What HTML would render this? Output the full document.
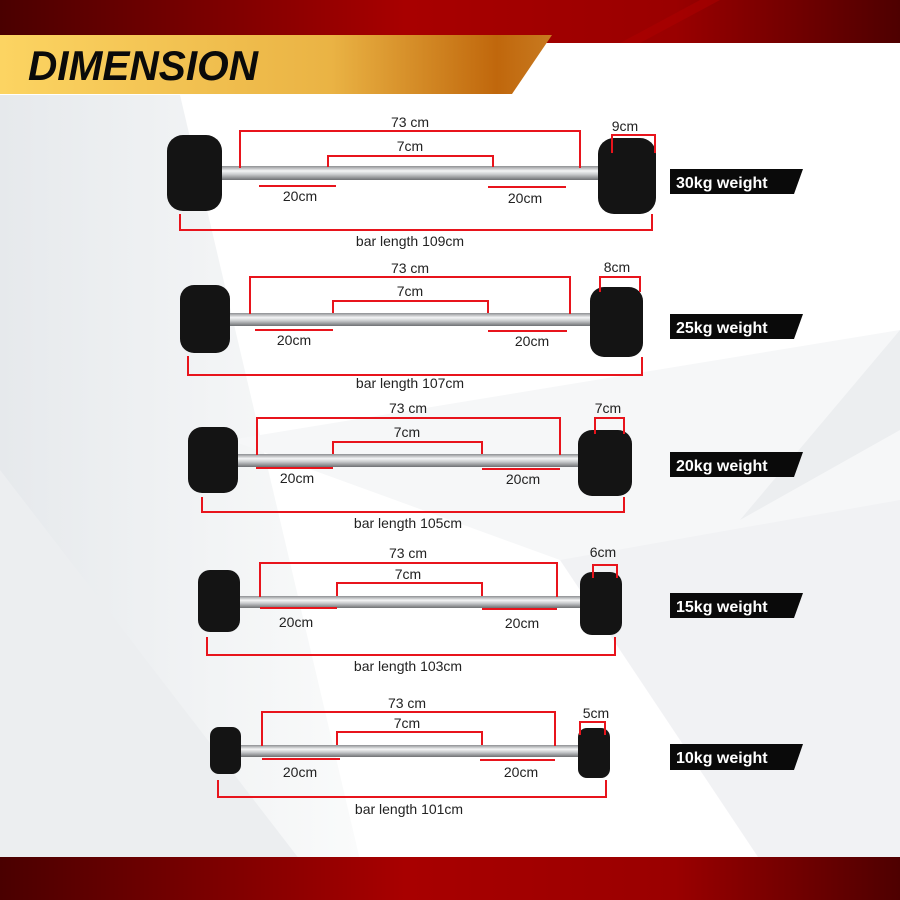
<!DOCTYPE html>
<html><head><meta charset="utf-8"><style>
html,body{margin:0;padding:0;width:900px;height:900px;overflow:hidden;background:#fff}
svg{display:block}
text{font-family:"Liberation Sans",sans-serif}
.t{font-size:14px;fill:#222;text-anchor:middle}
.r{fill:none;stroke:#e8141c;stroke-width:2}
.lb{font-size:16px;font-weight:bold;fill:#fff}
</style></head><body>
<svg width="900" height="900" viewBox="0 0 900 900" xmlns="http://www.w3.org/2000/svg">
<defs>
<linearGradient id="red" x1="0" y1="0" x2="1" y2="0">
<stop offset="0" stop-color="#4a0000"/><stop offset="0.45" stop-color="#a80000"/><stop offset="0.75" stop-color="#9a0000"/><stop offset="1" stop-color="#4e0000"/></linearGradient>
<linearGradient id="gold" x1="0" y1="0" x2="1" y2="0">
<stop offset="0" stop-color="#fcd462"/><stop offset="0.6" stop-color="#eab344"/><stop offset="0.9" stop-color="#c0670c"/><stop offset="1" stop-color="#c87a20"/></linearGradient>
<linearGradient id="bar" x1="0" y1="0" x2="0" y2="1">
<stop offset="0" stop-color="#8d8f92"/><stop offset="0.35" stop-color="#f4f5f6"/><stop offset="0.6" stop-color="#c9cbcd"/><stop offset="1" stop-color="#6e7073"/></linearGradient>
<linearGradient id="bg" x1="0" y1="0" x2="1" y2="0">
<stop offset="0" stop-color="#e6e9ec"/><stop offset="1" stop-color="#fafbfb"/></linearGradient>
</defs>
<rect width="900" height="900" fill="#fff"/>
<polygon points="0,95 180,95 360,860 0,860" fill="url(#bg)"/>
<polygon points="0,470 300,860 0,860" fill="#eceef0"/>
<polygon points="230,440 900,330 900,520 560,560" fill="#f6f7f8"/>
<polygon points="560,560 900,500 900,860 760,860" fill="#f1f2f4"/>
<polygon points="900,330 900,430 740,520" fill="#eceef0"/>
<!-- top band -->
<rect x="0" y="0" width="900" height="43" fill="url(#red)"/>
<polygon points="620,43 700,0 720,0 640,43" fill="#b00000" opacity="0.5"/>
<polygon points="0,35 552,35 512,94 0,94" fill="url(#gold)"/>
<text x="28" y="80" font-size="42" font-weight="bold" font-style="italic" fill="#0a0a0a" textLength="230" lengthAdjust="spacingAndGlyphs">DIMENSION</text>
<!-- bottom band -->
<rect x="0" y="857" width="900" height="43" fill="url(#red)"/>

<!-- ROW 1 -->
<rect x="208" y="166" width="406" height="14" fill="url(#bar)"/>
<rect x="167" y="135" width="55" height="76" rx="16" fill="#141414"/>
<rect x="598" y="138" width="58" height="76" rx="16" fill="#141414"/>
<polyline class="r" points="240,168 240,131 580,131 580,168"/>
<polyline class="r" points="328,167 328,156 493,156 493,167"/>
<line class="r" x1="259" y1="186" x2="336" y2="186"/><line class="r" x1="488" y1="187" x2="566" y2="187"/>
<polyline class="r" points="612,153 612,135 655,135 655,153"/>
<polyline class="r" points="180,214 180,230 652,230 652,214"/>
<text class="t" x="410" y="127">73 cm</text><text class="t" x="410" y="151">7cm</text>
<text class="t" x="300" y="201">20cm</text><text class="t" x="525" y="203">20cm</text>
<text class="t" x="625" y="131">9cm</text><text class="t" x="410" y="246">bar length 109cm</text>
<polygon points="670,169 803,169 794,194 670,194" fill="#0a0a0a"/><text class="lb" x="676" y="188">30kg weight</text>

<!-- ROW 2 -->
<rect x="222" y="313" width="382" height="13" fill="url(#bar)"/>
<rect x="180" y="285" width="50" height="68" rx="14" fill="#141414"/>
<rect x="590" y="287" width="53" height="70" rx="14" fill="#141414"/>
<polyline class="r" points="250,314 250,277 570,277 570,314"/>
<polyline class="r" points="333,313 333,301 488,301 488,313"/>
<line class="r" x1="255" y1="330" x2="333" y2="330"/><line class="r" x1="488" y1="331" x2="567" y2="331"/>
<polyline class="r" points="600,292 600,277 640,277 640,292"/>
<polyline class="r" points="188,356 188,375 642,375 642,357"/>
<text class="t" x="410" y="273">73 cm</text><text class="t" x="410" y="296">7cm</text>
<text class="t" x="294" y="345">20cm</text><text class="t" x="532" y="346">20cm</text>
<text class="t" x="617" y="272">8cm</text><text class="t" x="410" y="388">bar length 107cm</text>
<polygon points="670,314 803,314 794,339 670,339" fill="#0a0a0a"/><text class="lb" x="676" y="333">25kg weight</text>

<!-- ROW 3 -->
<rect x="228" y="454" width="362" height="13" fill="url(#bar)"/>
<rect x="188" y="427" width="50" height="66" rx="14" fill="#141414"/>
<rect x="578" y="430" width="54" height="66" rx="14" fill="#141414"/>
<polyline class="r" points="257,455 257,418 560,418 560,455"/>
<polyline class="r" points="333,454 333,442 482,442 482,454"/>
<line class="r" x1="256" y1="468" x2="333" y2="468"/><line class="r" x1="482" y1="469" x2="560" y2="469"/>
<polyline class="r" points="595,434 595,418 624,418 624,434"/>
<polyline class="r" points="202,497 202,512 624,512 624,497"/>
<text class="t" x="408" y="413">73 cm</text><text class="t" x="407" y="437">7cm</text>
<text class="t" x="297" y="483">20cm</text><text class="t" x="523" y="484">20cm</text>
<text class="t" x="608" y="413">7cm</text><text class="t" x="408" y="528">bar length 105cm</text>
<polygon points="670,452 803,452 794,477 670,477" fill="#0a0a0a"/><text class="lb" x="676" y="471">20kg weight</text>

<!-- ROW 4 -->
<rect x="232" y="596" width="356" height="12" fill="url(#bar)"/>
<rect x="198" y="570" width="42" height="62" rx="12" fill="#141414"/>
<rect x="580" y="572" width="42" height="63" rx="12" fill="#141414"/>
<polyline class="r" points="260,597 260,563 557,563 557,597"/>
<polyline class="r" points="337,596 337,583 482,583 482,596"/>
<line class="r" x1="260" y1="608" x2="337" y2="608"/><line class="r" x1="482" y1="609" x2="557" y2="609"/>
<polyline class="r" points="593,578 593,565 617,565 617,578"/>
<polyline class="r" points="207,637 207,655 615,655 615,637"/>
<text class="t" x="408" y="558">73 cm</text><text class="t" x="408" y="579">7cm</text>
<text class="t" x="296" y="627">20cm</text><text class="t" x="522" y="628">20cm</text>
<text class="t" x="603" y="557">6cm</text><text class="t" x="408" y="671">bar length 103cm</text>
<polygon points="670,593 803,593 794,618 670,618" fill="#0a0a0a"/><text class="lb" x="676" y="612">15kg weight</text>

<!-- ROW 5 -->
<rect x="234" y="745" width="350" height="12" fill="url(#bar)"/>
<rect x="210" y="727" width="31" height="47" rx="9" fill="#141414"/>
<rect x="578" y="728" width="32" height="50" rx="9" fill="#141414"/>
<polyline class="r" points="262,746 262,712 555,712 555,746"/>
<polyline class="r" points="337,745 337,732 482,732 482,745"/>
<line class="r" x1="262" y1="759" x2="340" y2="759"/><line class="r" x1="480" y1="760" x2="555" y2="760"/>
<polyline class="r" points="580,735 580,722 605,722 605,735"/>
<polyline class="r" points="218,780 218,797 606,797 606,780"/>
<text class="t" x="407" y="708">73 cm</text><text class="t" x="407" y="728">7cm</text>
<text class="t" x="300" y="777">20cm</text><text class="t" x="521" y="777">20cm</text>
<text class="t" x="596" y="718">5cm</text><text class="t" x="409" y="814">bar length 101cm</text>
<polygon points="670,744 803,744 794,770 670,770" fill="#0a0a0a"/><text class="lb" x="676" y="763">10kg weight</text>
</svg>
</body></html>
